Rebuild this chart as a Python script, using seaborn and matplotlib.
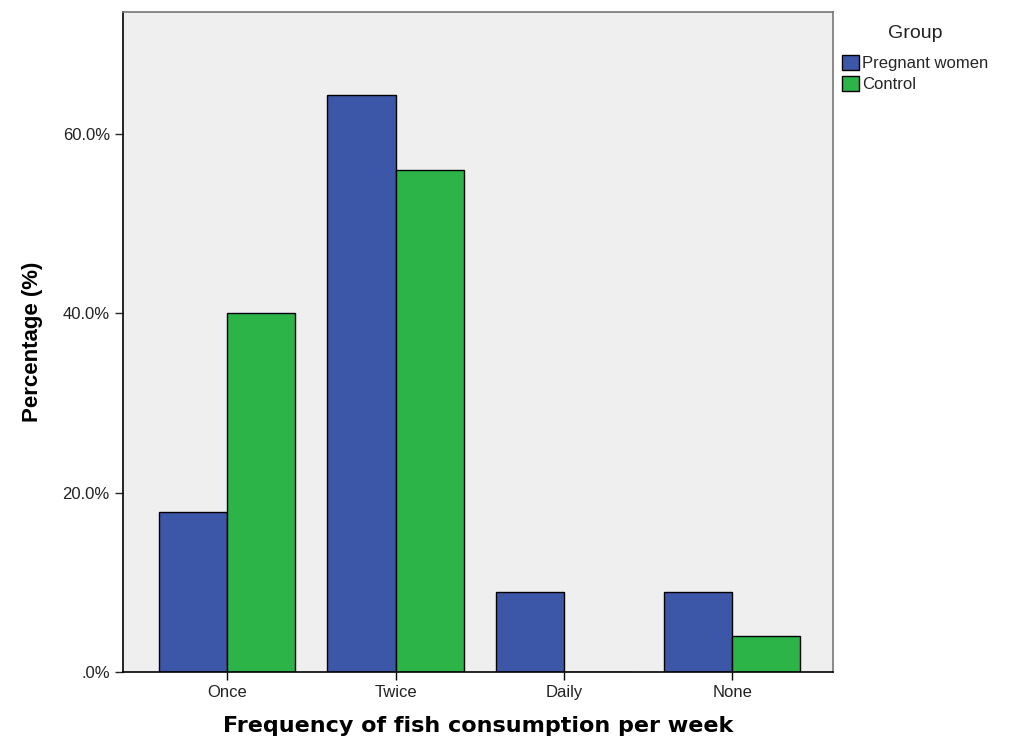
import pandas as pd
import seaborn as sns
import matplotlib.pyplot as plt
from matplotlib.patches import Patch

categories = ["Once", "Twice", "Daily", "None"]
groups = ["Pregnant women", "Control"]
pregnant_values = [17.8, 64.4, 8.9, 8.9]
control_values = [40.0, 56.0, 0.0, 4.0]
y_ticks = [0, 20, 40, 60]
y_tick_labels = [".0%", "20.0%", "40.0%", "60.0%"]
colors = ["#3d57a8", "#2db449"]

df = pd.DataFrame({
    "frequency": categories * 2,
    "group": [groups[0]] * len(categories) + [groups[1]] * len(categories),
    "percent": pregnant_values + control_values,
})

sns.set_style("white")
plt.rcParams["font.family"] = ["Liberation Sans", "DejaVu Sans"]

fig = plt.figure(figsize=(10.2, 7.42), dpi=100)
ax = fig.add_axes([0.1206, 0.0943, 0.6961, 0.8895])
ax.set_facecolor("#efefef")

sns.barplot(data=df, x="frequency", y="percent", hue="group", order=categories,
            hue_order=groups, palette=colors, width=0.81, edgecolor="black",
            linewidth=1.0, saturation=1, ax=ax, legend=False)

ax.set_xlim(-0.62, 3.6)
ax.set_ylim(0, 73.6)
ax.set_yticks(y_ticks)
ax.set_yticklabels(y_tick_labels, fontsize=12, color="#222222")
ax.tick_params(axis="x", labelsize=12, length=6, width=1, colors="black", direction="out")
ax.tick_params(axis="y", length=6, width=1, direction="out", left=True)
ax.tick_params(axis="x", bottom=True, labelcolor="#222222")

for side in ["left", "bottom"]:
    ax.spines[side].set_color("black")
    ax.spines[side].set_linewidth(1.2)
for side in ["top", "right"]:
    ax.spines[side].set_color("#777777")
    ax.spines[side].set_linewidth(1.2)

ax.set_xlabel("Frequency of fish consumption per week", fontsize=16, fontweight="bold",
              family="DejaVu Sans", color="black", labelpad=11)
ax.set_ylabel("Percentage (%)", fontsize=16, fontweight="bold", color="black", labelpad=14)

handles = [Patch(facecolor=c, edgecolor="black", label=g) for c, g in zip(colors, groups)]
leg = fig.legend(handles=handles, title="Group", loc="upper left",
                 bbox_to_anchor=(0.819, 0.975), frameon=False, fontsize=12,
                 title_fontsize=14, handlelength=1.0, handleheight=1.0,
                 handletextpad=0.2, labelspacing=0.3, borderaxespad=0)
leg._legend_box.align = "center"
leg._legend_box.sep = 9
leg.get_title().set_color("#222222")

fig.savefig("out.png", dpi=100)
